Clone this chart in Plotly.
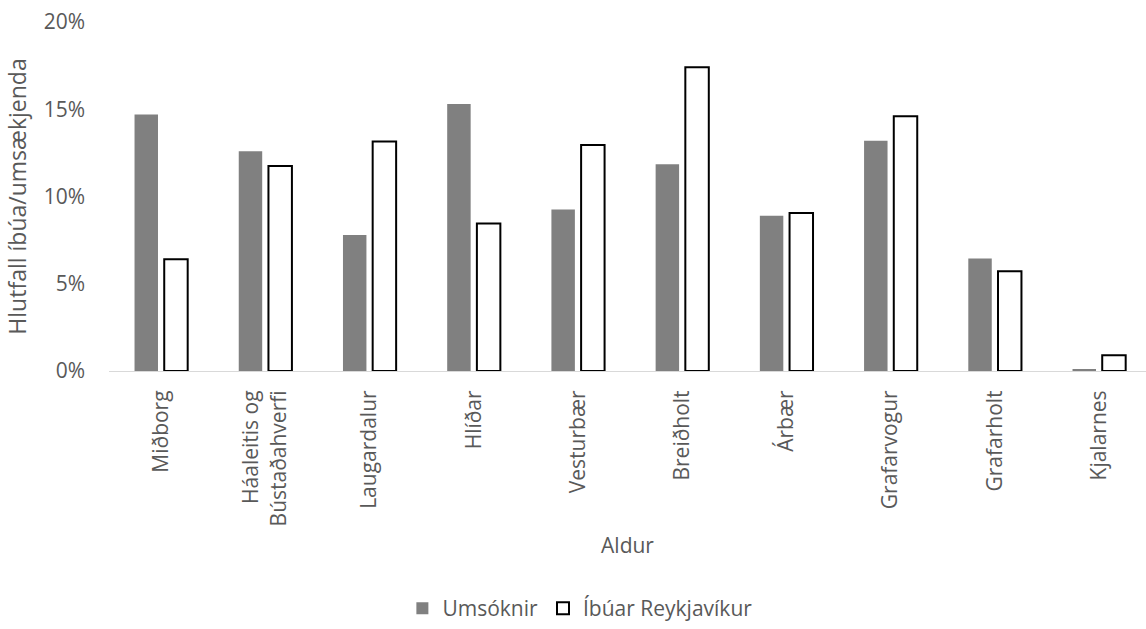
import plotly.graph_objects as go

# Borgarhlutar (hverfi) og hlutföll
hverfi = ["Miðborg", "Háaleitis og<br>Bústaðahverfi", "Laugardalur", "Hlíðar", "Vesturbær",
          "Breiðholt", "Árbær", "Grafarvogur", "Grafarholt", "Kjalarnes"]
umsoknir = [0.147, 0.126, 0.078, 0.153, 0.0925, 0.1185, 0.089, 0.132, 0.0645, 0.0008]
ibuar = [0.064, 0.1175, 0.1315, 0.0845, 0.1295, 0.174, 0.0905, 0.146, 0.0572, 0.009]
y_ticks = [0, 0.05, 0.10, 0.15, 0.20]
y_tick_text = ["0%", "5%", "10%", "15%", "20%"]

FONT = "Open Sans"
TXT = "#595959"

fig = go.Figure()
fig.add_trace(go.Bar(
    x=hverfi, y=umsoknir, name="Umsóknir",
    marker=dict(color="#808080", line=dict(width=0)),
))
fig.add_trace(go.Bar(
    x=hverfi, y=ibuar, name="Íbúar Reykjavíkur",
    marker=dict(color="#ffffff", line=dict(color="#000000", width=2)),
))

fig.update_layout(
    width=1146, height=629,
    margin=dict(l=109, r=0, t=22, b=258),
    paper_bgcolor="white", plot_bgcolor="white",
    font=dict(family=FONT, color=TXT, size=21),
    barmode="group", bargap=0.43, bargroupgap=0.21,
    showlegend=True,
    legend=dict(
        orientation="h", xref="container", yref="container",
        x=0.506, xanchor="center", y=0.0, yanchor="bottom",
        font=dict(family=FONT, size=21, color=TXT),
        traceorder="normal", itemwidth=30,
    ),
    xaxis=dict(
        type="category", range=[-0.5, 9.45],
        showline=True, linecolor="#d9d9d9", linewidth=1,
        showgrid=False, zeroline=False, ticks="",
        tickangle=-90, ticklabelstandoff=10,
        tickfont=dict(family=FONT, size=21, color=TXT),
        title=dict(text="Aldur", font=dict(family=FONT, size=21, color=TXT), standoff=12),
    ),
    yaxis=dict(
        range=[0, 0.20], tickvals=y_ticks, ticktext=y_tick_text,
        showline=False, showgrid=False, zeroline=False, ticks="",
        ticklabelstandoff=23,
        tickfont=dict(family=FONT, size=21, color=TXT),
        title=dict(text="Hlutfall íbúa/umsækjenda", font=dict(family=FONT, size=23, color=TXT), standoff=10),
    ),
)

fig.write_html("out.html")
